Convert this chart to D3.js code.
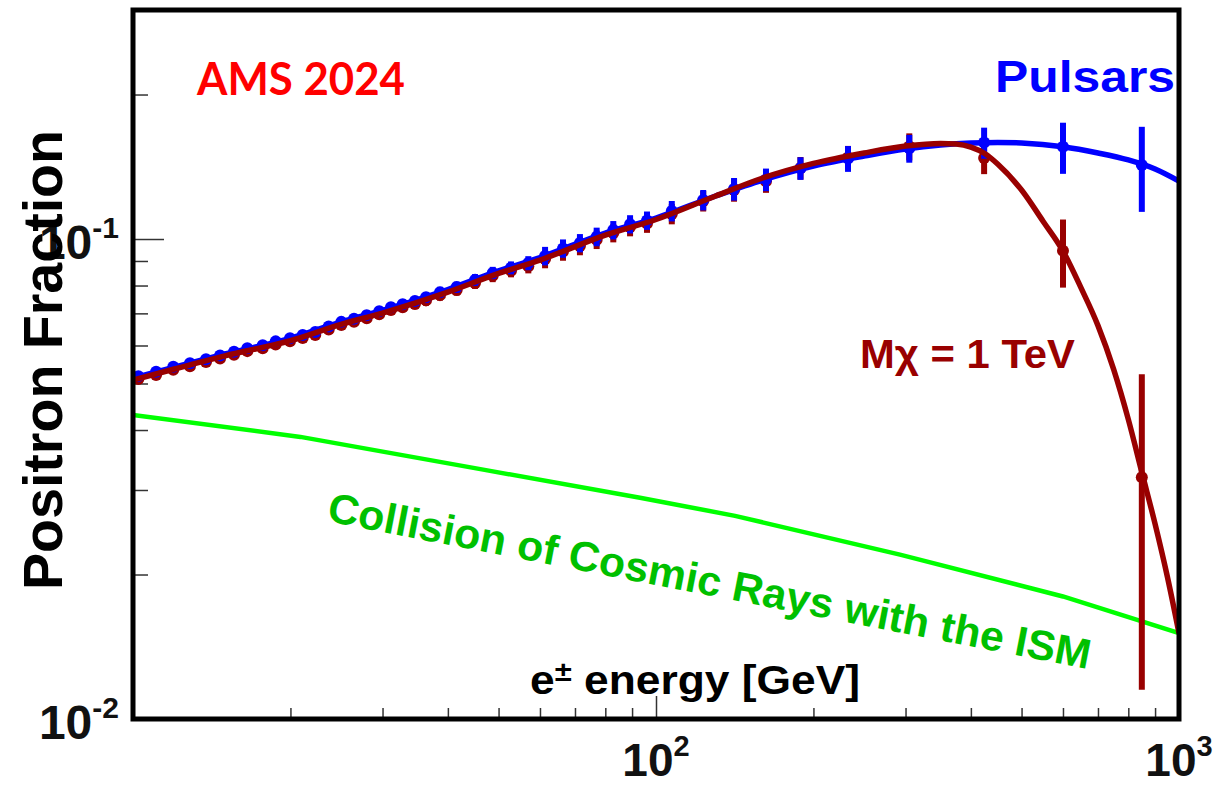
<!DOCTYPE html>
<html>
<head>
<meta charset="utf-8">
<script src="https://cdn.jsdelivr.net/npm/d3@7"></script>
<style>
  html, body { margin: 0; padding: 0; background: #ffffff; }
  svg { display: block; }
</style>
</head>
<body>
<script>
// ---------------- data ----------------
const energies = [10.24, 11.07, 11.94, 12.85, 13.79, 14.67, 15.60, 16.54, 17.70, 18.74,
  19.96, 21.11, 22.31, 23.67, 25.02, 26.46, 27.98, 29.57, 31.13, 32.78, 34.60, 36.33,
  38.64, 41.58, 45.08, 48.73, 52.82, 57.00,
  61.36, 66.40, 71.54, 77.01, 82.86, 89.21, 96.12, 107.2, 123.1, 141.0, 162.3, 188.9,
  232.9, 305.0, 424, 600, 849];

const pulsarFrac = [0.0518, 0.0529, 0.0542, 0.0551, 0.0562, 0.0572, 0.0582, 0.0592, 0.0601, 0.0612,
  0.0621, 0.0631, 0.0640, 0.0657, 0.0672, 0.0682, 0.0694, 0.0707, 0.0721, 0.0731, 0.0743, 0.0756,
  0.0775, 0.0794, 0.0822, 0.0850, 0.0871, 0.0891,
  0.0922, 0.0956, 0.0981, 0.1011, 0.1044, 0.1074, 0.1093, 0.1144, 0.1206, 0.1271, 0.1330, 0.1404,
  0.1471, 0.1545, 0.1588, 0.1557, 0.1426];

const pulsarErr = [0.0010, 0.0010, 0.0010, 0.0011, 0.0011, 0.0011, 0.0012, 0.0012, 0.0012, 0.0013,
  0.0013, 0.0013, 0.0014, 0.0014, 0.0015, 0.0015, 0.0016, 0.0016, 0.0017, 0.0017, 0.0018, 0.0019,
  0.0020, 0.0021, 0.0023, 0.0025, 0.0027, 0.0030,
  0.0041, 0.0042, 0.0043, 0.0045, 0.0046, 0.0047, 0.0048, 0.0056, 0.0059, 0.0069, 0.0072, 0.0076,
  0.0091, 0.0103, 0.0118, 0.0190, 0.0287];

const dmFrac = [0.0511, 0.0521, 0.0534, 0.0543, 0.0554, 0.0564, 0.0574, 0.0584, 0.0592, 0.0603,
  0.0612, 0.0622, 0.0631, 0.0648, 0.0662, 0.0672, 0.0684, 0.0697, 0.0711, 0.0721, 0.0732, 0.0745,
  0.0764, 0.0783, 0.0810, 0.0838, 0.0859, 0.0878,
  0.0909, 0.0942, 0.0967, 0.0997, 0.1029, 0.1059, 0.1077, 0.1128, 0.1200, 0.1265, 0.1320, 0.1406,
  0.1479, 0.1559, 0.1475, 0.0945, 0.0319];

const dmErr = [0.0010, 0.0010, 0.0010, 0.0011, 0.0011, 0.0011, 0.0012, 0.0012, 0.0012, 0.0013,
  0.0013, 0.0013, 0.0014, 0.0014, 0.0015, 0.0015, 0.0016, 0.0016, 0.0017, 0.0017, 0.0018, 0.0019,
  0.0020, 0.0021, 0.0023, 0.0025, 0.0027, 0.0030,
  0.0040, 0.0041, 0.0042, 0.0044, 0.0045, 0.0046, 0.0047, 0.0055, 0.0059, 0.0069, 0.0072, 0.0076,
  0.0084, 0.0101, 0.0110, 0.0153, 0.0204];

// model curves
const pulsarCurveE = [10, 12, 15, 20, 25, 30, 40, 50, 60, 80, 100, 130, 160, 200, 250, 300, 350,
  400, 450, 500, 600, 700, 800, 900, 1000];
const pulsarCurve = [0.0513, 0.0541, 0.0576, 0.0621, 0.0672, 0.0710, 0.0785, 0.0858, 0.0915, 0.1029,
  0.1106, 0.1229, 0.1327, 0.1419, 0.1489, 0.1540, 0.1570, 0.1585, 0.1589, 0.1585, 0.1557, 0.1511,
  0.1461, 0.1399, 0.1320];

const dmCurveE = [10, 12, 15, 20, 25, 30, 40, 50, 60, 80, 100, 130, 160, 200, 250, 300, 350, 375,
  400, 425, 450, 500, 550, 600, 650, 700, 750, 800, 850, 900, 950, 1000];
const dmCurve = [0.0508, 0.0536, 0.0571, 0.0614, 0.0664, 0.0701, 0.0775, 0.0848, 0.0904, 0.1019,
  0.1098, 0.1229, 0.1340, 0.1437, 0.1511, 0.1562, 0.1582, 0.1577, 0.1554, 0.1507, 0.1433, 0.1265,
  0.1088, 0.0944, 0.0790, 0.0660, 0.0535, 0.0421, 0.0325, 0.0255, 0.0198, 0.0151];

const ismCurveE = [10, 20.9, 47.3, 93.2, 141.6, 292.7, 600, 1000];
const ismCurve = [0.0430, 0.0387, 0.0330, 0.0289, 0.0265, 0.0220, 0.0180, 0.0151];

// axis ticks
const yMinorTicks = [0.02, 0.03, 0.04, 0.05, 0.06, 0.07, 0.08, 0.09, 0.2];
const yMajorTicks = [0.1];
const yLabelValues = [0.01, 0.1];
const yLabelExps = ["-2", "-1"];
const xMinorTicks = [20, 30, 40, 50, 60, 70, 80, 90, 200, 300, 400, 500, 600, 700, 800, 900];
const xMajorTicks = [100];
const xLabelValues = [100, 1000];
const xLabelExps = ["2", "3"];

// ---------------- drawing ----------------
(function () {
const W = 1216, H = 788;
const pL = 133, pR = 1179, pT = 10, pB = 719;
const BLUE = "#0000ff", DARKRED = "#990000", LIME = "#00ff00", GREENTXT = "#00c000";
const FONT = "'Liberation Sans', Arial, Helvetica, sans-serif";

const x = d3.scaleLog().domain([10, 1000]).range([pL, pR]);
const y = d3.scaleLog().domain([0.01, 0.3]).range([pB, pT]);

const svg = d3.select("body").append("svg").attr("width", W).attr("height", H);
svg.append("rect").attr("width", W).attr("height", H).attr("fill", "#fff");

svg.append("defs").append("clipPath").attr("id", "plotclip")
  .append("rect").attr("x", pL).attr("y", pT).attr("width", pR - pL).attr("height", pB - pT);

// ticks
const tickStroke = "#333";
const gy1 = svg.append("g").attr("transform", `translate(${pL},0)`)
  .call(d3.axisLeft(y).tickValues(yMinorTicks).tickSize(-15).tickFormat(""));
const gy2 = svg.append("g").attr("transform", `translate(${pL},0)`)
  .call(d3.axisLeft(y).tickValues(yMajorTicks).tickSize(-31).tickFormat(""));
const gx1 = svg.append("g").attr("transform", `translate(0,${pB})`)
  .call(d3.axisBottom(x).tickValues(xMinorTicks).tickSize(-11).tickFormat(""));
const gx2 = svg.append("g").attr("transform", `translate(0,${pB})`)
  .call(d3.axisBottom(x).tickValues(xMajorTicks).tickSize(-23).tickFormat(""));
[gy1, gy2, gx1, gx2].forEach(g => {
  g.select(".domain").remove();
  g.selectAll(".tick line").attr("stroke", tickStroke).attr("stroke-width", 1.5);
});

const plot = svg.append("g").attr("clip-path", "url(#plotclip)");

// ISM secondary line
const lineLin = d3.line().x(d => x(d[0])).y(d => y(d[1]));
plot.append("path")
  .datum(ismCurveE.map((e, i) => [e, ismCurve[i]]))
  .attr("d", lineLin).attr("fill", "none").attr("stroke", LIME).attr("stroke-width", 4.5);

// points helper
function drawPoints(frac, err, color) {
  const g = plot.append("g");
  const data = energies.map((e, i) => ({ e, v: frac[i], s: err[i] }));
  g.selectAll("line").data(data).join("line")
    .attr("x1", d => x(d.e)).attr("x2", d => x(d.e))
    .attr("y1", d => y(d.v + d.s)).attr("y2", d => y(Math.max(d.v - d.s, 0.0101)))
    .attr("stroke", color).attr("stroke-width", 6);
  g.selectAll("circle").data(data).join("circle")
    .attr("cx", d => x(d.e)).attr("cy", d => y(d.v)).attr("r", 6)
    .attr("fill", color);
}
drawPoints(dmFrac, dmErr, DARKRED);
drawPoints(pulsarFrac, pulsarErr, BLUE);

const lineSmooth = d3.line().x(d => x(d[0])).y(d => y(d[1])).curve(d3.curveMonotoneX);
plot.append("path")
  .datum(pulsarCurveE.map((e, i) => [e, pulsarCurve[i]]))
  .attr("d", lineSmooth).attr("fill", "none").attr("stroke", BLUE).attr("stroke-width", 5.5)
  .attr("stroke-linejoin", "round");
plot.append("path")
  .datum(dmCurveE.map((e, i) => [e, dmCurve[i]]))
  .attr("d", lineSmooth).attr("fill", "none").attr("stroke", DARKRED).attr("stroke-width", 5.5)
  .attr("stroke-linejoin", "round");

// frame
svg.append("rect").attr("x", pL).attr("y", pT).attr("width", pR - pL).attr("height", pB - pT)
  .attr("fill", "none").attr("stroke", "#000").attr("stroke-width", 5);

// tick labels
yLabelValues.forEach((v, i) => {
  const t = svg.append("text").attr("x", 119).attr("y", y(v) + 20)
    .attr("text-anchor", "end").attr("font-family", FONT).attr("font-size", 48)
    .attr("font-weight", "bold").attr("fill", "#111");
  t.append("tspan").text("10");
  t.append("tspan").attr("dy", -21).attr("font-size", 30).text(yLabelExps[i]);
});
xLabelValues.forEach((v, i) => {
  const t = svg.append("text").attr("x", x(v)).attr("y", 776)
    .attr("text-anchor", "middle").attr("font-family", FONT).attr("font-size", 46)
    .attr("font-weight", "bold").attr("fill", "#111");
  t.append("tspan").text("10");
  t.append("tspan").attr("dy", -20).attr("font-size", 29).text(xLabelExps[i]);
});

// axis titles
svg.append("text").attr("transform", "translate(62,360) rotate(-90)")
  .attr("text-anchor", "middle").attr("font-family", FONT).attr("font-weight", "bold")
  .attr("font-size", 55).attr("textLength", 460).attr("lengthAdjust", "spacingAndGlyphs")
  .attr("fill", "#000").text("Positron Fraction");

const xt = svg.append("text").attr("x", 530).attr("y", 694)
  .attr("font-family", FONT).attr("font-weight", "bold").attr("font-size", 40)
  .attr("textLength", 330).attr("lengthAdjust", "spacingAndGlyphs")
  .attr("fill", "#000");
xt.append("tspan").text("e");
xt.append("tspan").attr("dy", -13).attr("font-size", 28).text("\u00B1");
xt.append("tspan").attr("dy", 13).text(" energy [GeV]");

// annotations
svg.append("text").attr("x", 197).attr("y", 95)
  .attr("font-family", "Lato, 'Open Sans', sans-serif").attr("font-weight", "bold").attr("font-size", 45)
  .attr("textLength", 208).attr("lengthAdjust", "spacingAndGlyphs")
  .attr("fill", "#ff0000").text("AMS 2024");

svg.append("text").attr("x", 995).attr("y", 92)
  .attr("font-family", FONT).attr("font-weight", "bold").attr("font-size", 44)
  .attr("textLength", 180).attr("lengthAdjust", "spacingAndGlyphs")
  .attr("fill", BLUE).text("Pulsars");

svg.append("text").attr("x", 860).attr("y", 368)
  .attr("font-family", FONT).attr("font-weight", "bold").attr("font-size", 40)
  .attr("textLength", 215).attr("lengthAdjust", "spacingAndGlyphs")
  .attr("fill", DARKRED).text("M\u03C7 = 1 TeV");

svg.append("text").attr("transform", "translate(326,521) rotate(11)")
  .attr("font-family", FONT).attr("font-weight", "bold").attr("font-size", 42)
  .attr("textLength", 776).attr("lengthAdjust", "spacingAndGlyphs")
  .attr("fill", GREENTXT).text("Collision of Cosmic Rays with the ISM");
})();
</script>
</body>
</html>
